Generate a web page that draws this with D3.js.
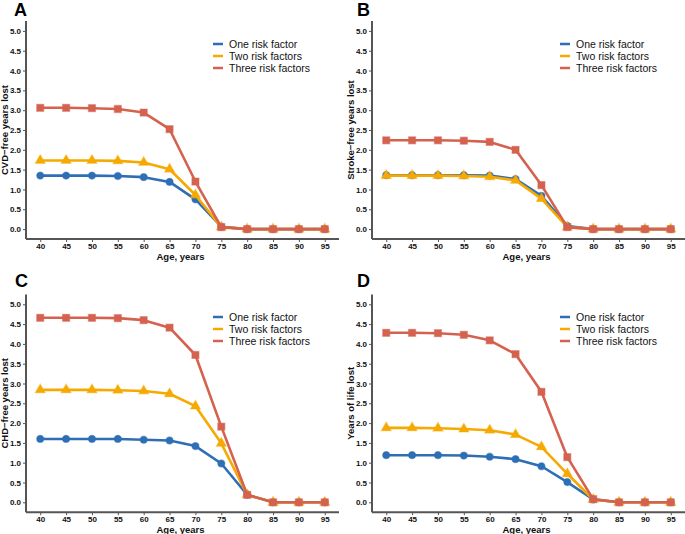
<!DOCTYPE html>
<html><head><meta charset="utf-8">
<script src="https://cdn.jsdelivr.net/npm/d3@7"></script>
<style>body{margin:0;background:#fff}svg{display:block}</style>
</head><body>
<script>
const ages = [40,45,50,55,60,65,70,75,80,85,90,95];
const yTicks = [0,0.5,1,1.5,2,2.5,3,3.5,4,4.5,5];
const seriesNames = ["One risk factor","Two risk factors","Three risk factors"];
const colors = ["#2E6EB5","#F6A900","#D5614F"];
const panelLetters = ["A","B","C","D"];
const yTitles = ["CVD\u2212free years lost","Stroke\u2212free years lost","CHD\u2212free years lost","Years of life lost"];

const cvdOne   = [1.35,1.35,1.35,1.34,1.31,1.19,0.75,0.06,0,0,0,0];
const cvdTwo   = [1.73,1.73,1.73,1.72,1.68,1.51,0.86,0.05,0,0,0,0];
const cvdThree = [3.06,3.06,3.05,3.03,2.94,2.52,1.20,0.05,0,0,0,0];

const strokeOne   = [1.36,1.36,1.36,1.36,1.35,1.26,0.84,0.08,0,0,0,0];
const strokeTwo   = [1.35,1.35,1.35,1.34,1.32,1.23,0.77,0.05,0,0,0,0];
const strokeThree = [2.24,2.24,2.24,2.23,2.20,2.00,1.11,0.05,0,0,0,0];

const chdOne   = [1.60,1.60,1.60,1.60,1.58,1.56,1.42,0.98,0.19,0,0,0];
const chdTwo   = [2.84,2.84,2.84,2.83,2.81,2.74,2.43,1.49,0.19,0,0,0];
const chdThree = [4.66,4.66,4.66,4.65,4.60,4.41,3.72,1.91,0.19,0,0,0];

const lifeOne   = [1.19,1.19,1.19,1.18,1.15,1.09,0.91,0.51,0.07,0,0,0];
const lifeTwo   = [1.88,1.88,1.87,1.85,1.82,1.71,1.40,0.72,0.07,0,0,0];
const lifeThree = [4.28,4.28,4.27,4.23,4.09,3.74,2.79,1.14,0.08,0,0,0];

const panelData = [
  [cvdOne,cvdTwo,cvdThree],
  [strokeOne,strokeTwo,strokeThree],
  [chdOne,chdTwo,chdThree],
  [lifeOne,lifeTwo,lifeThree]
];

const W = 685, H = 534;
const svg = d3.select("body").append("svg").attr("width",W).attr("height",H);

const geo = [
  {x0:26, x1:339, yT:21, yB:239, ly:44, lx:213, letX:14, letY:16},
  {x0:372, x1:685, yT:21, yB:239, ly:44, lx:560, letX:357, letY:16},
  {x0:26, x1:339, yT:294.4, yB:512.2, ly:317, lx:213, letX:15, letY:287},
  {x0:372, x1:685, yT:294.4, yB:512.2, ly:317, lx:560, letX:357, letY:287}
];

const axisCol = "#555";
const font = "'Liberation Sans', Arial, Helvetica, sans-serif";

geo.forEach((g,pi)=>{
  const x = d3.scaleLinear().domain([37.25,97.75]).range([g.x0,g.x1]);
  const y = d3.scaleLinear().domain([-0.25,5.25]).range([g.yB,g.yT]);
  const p = svg.append("g");

  const xa = p.append("g").attr("transform",`translate(0,${g.yB})`)
    .call(d3.axisBottom(x).tickValues(ages).tickSize(3).tickPadding(1).tickFormat(d3.format("d")));
  const ya = p.append("g").attr("transform",`translate(${g.x0},0)`)
    .call(d3.axisLeft(y).tickValues(yTicks).tickSize(3).tickPadding(2).tickFormat(d3.format(".1f")));
  [xa,ya].forEach(a=>{
    a.select(".domain").attr("stroke",axisCol).attr("stroke-width",2);
    a.selectAll(".tick line").attr("stroke",axisCol).attr("stroke-width",1);
    a.selectAll(".tick text").attr("fill","#111").style("font-family",font)
      .style("font-size","8px").style("font-weight","bold");
  });
  xa.select(".domain").attr("d",`M${g.x0},0H${g.x1}`);
  ya.select(".domain").attr("d",`M0,${g.yB}V${g.yT}`);

  p.append("text").attr("x",(g.x0+g.x1)/2 - 2).attr("y",g.yB+21)
    .attr("text-anchor","middle").style("font-family",font).style("font-size","9.5px")
    .style("font-weight","bold").attr("fill","#111").text("Age, years");
  p.append("text").attr("transform",`translate(${g.x0-18},${(g.yT+g.yB)/2}) rotate(-90)`)
    .attr("text-anchor","middle").style("font-family",font).style("font-size","9.5px")
    .style("font-weight","bold").attr("fill","#111").text(yTitles[pi]);
  p.append("text").attr("x",g.letX).attr("y",g.letY)
    .style("font-family",font).style("font-size","18px").style("font-weight","bold")
    .attr("fill","#000").text(panelLetters[pi]);

  const line = d3.line().x((d,i)=>x(ages[i])).y(d=>y(d));
  const sym = [d3.symbolCircle, d3.symbolTriangle, d3.symbolSquare];
  const sizes = [40, 42, 50];
  panelData[pi].forEach((vals,si)=>{
    p.append("path").datum(vals).attr("d",line).attr("fill","none")
      .attr("stroke",colors[si]).attr("stroke-width",2.6).attr("stroke-linejoin","round");
    p.selectAll(null).data(vals).enter().append("path")
      .attr("transform",(d,i)=>`translate(${x(ages[i])},${y(d)})`)
      .attr("d",d3.symbol().type(sym[si]).size(sizes[si]))
      .attr("fill",colors[si]).attr("stroke",colors[si]).attr("stroke-opacity",0.45).attr("stroke-width",1.2);
  });

  seriesNames.forEach((n,si)=>{
    const yy = g.ly + si*12;
    p.append("line").attr("x1",g.lx).attr("x2",g.lx+10).attr("y1",yy).attr("y2",yy)
      .attr("stroke",colors[si]).attr("stroke-width",2.5);
    p.append("text").attr("x",g.lx+16).attr("y",yy+3.8)
      .style("font-family",font).style("font-size","10.5px").attr("fill","#111").text(n);
  });
});
</script>
</body></html>
